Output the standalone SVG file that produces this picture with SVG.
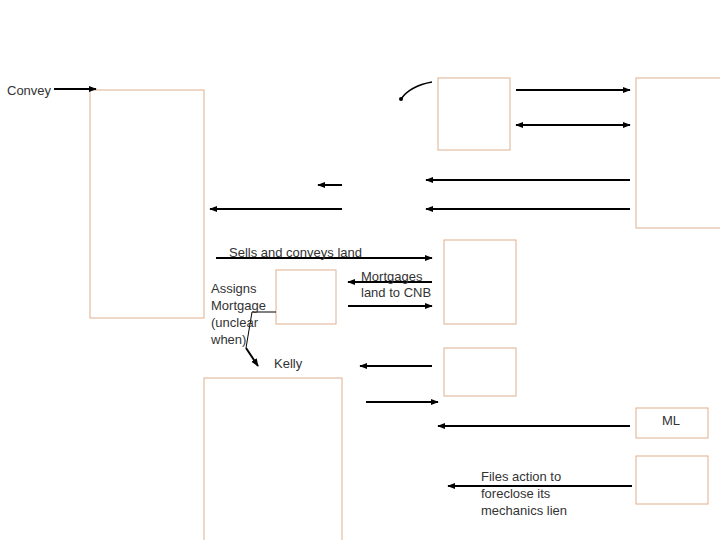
<svg xmlns="http://www.w3.org/2000/svg" width="720" height="540" viewBox="0 0 720 540">
<style>
.b{fill:#fff;stroke:#e0b090;stroke-width:1}
.c{stroke:#000;stroke-width:2;fill:none}
text{font-family:"Liberation Sans",Arial,sans-serif;font-size:13px;fill:#333}
</style>
<defs><marker id="a" viewBox="0 0 10 10" refX="9" refY="5" markerWidth="4" markerHeight="4" orient="auto-start-reverse"><path d="M0,1L10,5L0,9z" fill="#000"/></marker></defs>
<rect width="720" height="540" fill="#fff"/>
<g id="n1"><rect class="b" x="90" y="90" width="114" height="228"/></g>
<g id="n2"><rect class="b" x="438" y="78" width="72" height="72"/></g>
<g id="n3"><rect class="b" x="636" y="78" width="90" height="150"/></g>
<g id="n4"><rect class="b" x="444" y="240" width="72" height="84"/></g>
<g id="n5"><rect class="b" x="276" y="270" width="60" height="54"/></g>
<g id="n6"><rect class="b" x="444" y="348" width="72" height="48"/></g>
<g id="n7"><rect class="b" x="204" y="378" width="138" height="170"/></g>
<g id="n8"><rect class="b" x="636" y="408" width="72" height="30"/><text x="662" y="425">ML</text></g>
<g id="n9"><rect class="b" x="636" y="456" width="72" height="48"/></g>
<g id="connectors">
<path class="c" d="M54,89H96" marker-end="url(#a)"/>
<path stroke="#000" stroke-width="1.5" fill="none" d="M432,82Q410,86 401,99"/>
<circle cx="401" cy="99" r="2" fill="#000"/>
<path class="c" d="M516,90H630" marker-end="url(#a)"/>
<path class="c" d="M516,125H630" marker-start="url(#a)" marker-end="url(#a)"/>
<path class="c" d="M342,185H318" marker-end="url(#a)"/>
<path class="c" d="M630,180H426" marker-end="url(#a)"/>
<path class="c" d="M342,209H210" marker-end="url(#a)"/>
<path class="c" d="M630,209H426" marker-end="url(#a)"/>
<path class="c" d="M216,258H432" marker-end="url(#a)"/>
<path class="c" d="M432,282H348" marker-end="url(#a)"/>
<path class="c" d="M348,306H432" marker-end="url(#a)"/>
<path stroke="#000" stroke-width="1" fill="none" d="M276,312H252L246,348"/>
<path class="c" d="M246,348L258,366" marker-end="url(#a)"/>
<path class="c" d="M432,366H360" marker-end="url(#a)"/>
<path class="c" d="M366,402H438" marker-end="url(#a)"/>
<path class="c" d="M630,426H438" marker-end="url(#a)"/>
<path class="c" d="M632,486H448" marker-end="url(#a)"/>
</g>
<text x="7" y="95">Convey</text>
<text x="229" y="257">Sells and conveys land</text>
<text x="361" y="281">Mortgages</text>
<text x="361" y="297">land to CNB</text>
<text x="211" y="293">Assigns</text>
<text x="211" y="310">Mortgage</text>
<text x="211" y="327">(unclear</text>
<text x="211" y="344">when)</text>
<text x="274" y="368">Kelly</text>
<text x="481" y="481">Files action to</text>
<text x="481" y="498">foreclose its</text>
<text x="481" y="515">mechanics lien</text>
</svg>
